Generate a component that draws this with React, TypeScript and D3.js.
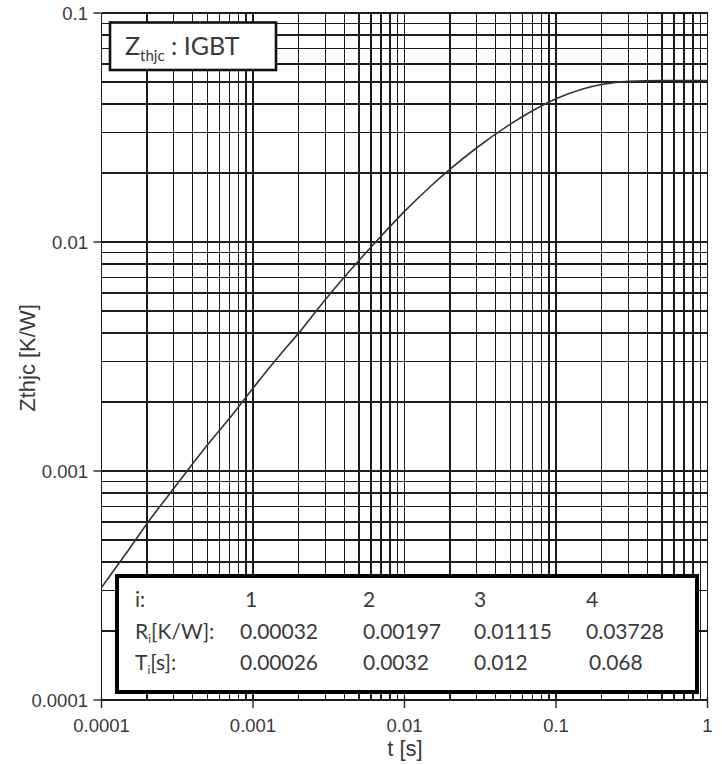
import React from "react";
import * as d3 from "d3";

// Transient thermal impedance, junction to case (IGBT)
const timeValues = [
  0.0001, 0.00015, 0.0002, 0.0003, 0.0005, 0.0007, 0.001, 0.0015, 0.002, 0.003,
  0.005, 0.007, 0.01, 0.015, 0.02, 0.03, 0.05, 0.07, 0.1, 0.15, 0.2, 0.3, 0.5,
  0.7, 1,
];
const zthValues = [
  0.00031, 0.00045, 0.00059, 0.00084, 0.0013, 0.0017, 0.0023, 0.0032, 0.0040,
  0.0056, 0.0083, 0.0106, 0.0136, 0.0176, 0.0208, 0.0258, 0.0327, 0.0374,
  0.0422, 0.0466, 0.0487, 0.0503, 0.0507, 0.0507, 0.0507,
];

const xTickLabels = ["0.0001", "0.001", "0.01", "0.1", "1"];
const yTickLabels = ["0.0001", "0.001", "0.01", "0.1"];

// Foster network parameters
const stageNumbers = ["1", "2", "3", "4"];
const resistances = ["0.00032", "0.00197", "0.01115", "0.03728"];
const timeConstants = ["0.00026", "0.0032", "0.012", "0.068"];

const W = 722;
const H = 765;
const left = 101.5;
const right = 707.5;
const top = 13;
const bottom = 700;

export default function App() {
  const x = d3.scaleLog().domain([0.0001, 1]).range([left, right]);
  const y = d3.scaleLog().domain([0.0001, 0.1]).range([bottom, top]);

  const xGrid = x.ticks();
  const yGrid = y.ticks();

  const line = d3
    .line<number>()
    .x((_, i) => x(timeValues[i]))
    .y((d) => y(d))
    .curve(d3.curveMonotoneX);

  const gridColor = "#1c1c1c";
  const textColor = "#3a3a3a";
  const tickFont = "'Liberation Sans', Arial, sans-serif";
  const tableFont = "Lato, 'Open Sans', sans-serif";

  const colX = [240, 363, 474, 586];
  const rowY = [607, 639, 670];

  return (
    <svg
      width={W}
      height={H}
      viewBox={`0 0 ${W} ${H}`}
      style={{ position: "absolute", left: 0, top: 0, background: "#fff" }}
    >
      <rect x={0} y={0} width={W} height={H} fill="#fff" />

      {/* grid */}
      <g stroke={gridColor} strokeWidth={1.4} shapeRendering="crispEdges">
        {xGrid.map((v, i) => (
          <line key={`gx${i}`} x1={x(v)} x2={x(v)} y1={top} y2={bottom} />
        ))}
        {yGrid.map((v, i) => (
          <line key={`gy${i}`} x1={left} x2={right} y1={y(v)} y2={y(v)} />
        ))}
      </g>

      {/* major ticks */}
      <g stroke="#222" strokeWidth={1.4}>
        {xTickLabels.map((t) => (
          <line key={`tx${t}`} x1={x(+t)} x2={x(+t)} y1={bottom - 3} y2={bottom + 8} />
        ))}
        {yTickLabels.map((t) => (
          <line key={`ty${t}`} x1={left - 8} x2={left} y1={y(+t)} y2={y(+t)} />
        ))}
      </g>

      {/* curve */}
      <path
        d={line(zthValues) || ""}
        fill="none"
        stroke="#333"
        strokeWidth={1.6}
      />

      {/* tick labels */}
      <g fill={textColor} fontFamily={tickFont} fontSize={18.5}>
        {xTickLabels.map((t) => (
          <text key={`lx${t}`} x={x(+t)} y={732} textAnchor="middle">
            {t}
          </text>
        ))}
        {yTickLabels.map((t) => (
          <text
            key={`ly${t}`}
            x={88}
            y={y(+t)}
            textAnchor="end"
            dominantBaseline="central"
          >
            {t}
          </text>
        ))}
      </g>

      {/* axis titles */}
      <g fill={textColor} fontFamily={tickFont} fontSize={22}>
        <text x={405} y={756} textAnchor="middle">
          t [s]
        </text>
        <text
          transform="translate(35,358) rotate(-90)"
          textAnchor="middle"
        >
          Zthjc [K/W]
        </text>
      </g>

      {/* title box */}
      <rect
        x={110}
        y={22.5}
        width={166}
        height={47.5}
        fill="#fff"
        stroke="#111"
        strokeWidth={2.6}
      />
      <text x={125} y={55} fill={textColor} fontFamily={tableFont} fontSize={25}>
        Z
        <tspan fontSize={15} dy={6}>
          thjc
        </tspan>
        <tspan dy={-6}> : IGBT</tspan>
      </text>

      {/* parameter table */}
      <rect
        x={117}
        y={576}
        width={580}
        height={116}
        fill="#fff"
        stroke="#000"
        strokeWidth={4}
      />
      <g fill={textColor} fontFamily={tableFont} fontSize={21}>
        <text x={135} y={rowY[0]}>i:</text>
        <text x={135} y={rowY[1]}>
          R<tspan fontSize={12} dy={4}>i</tspan>
          <tspan dy={-4}>[K/W]:</tspan>
        </text>
        <text x={135} y={rowY[2]}>
          T<tspan fontSize={12} dy={4}>i</tspan>
          <tspan dy={-4}>[s]:</tspan>
        </text>
        {stageNumbers.map((s, i) => (
          <text key={`n${s}`} x={colX[i] + (i === 0 ? 5 : 0)} y={rowY[0]}>
            {s}
          </text>
        ))}
        {resistances.map((r, i) => (
          <text key={`r${i}`} x={colX[i]} y={rowY[1]}>
            {r}
          </text>
        ))}
        {timeConstants.map((t, i) => (
          <text key={`t${i}`} x={colX[i] + (i === 3 ? 3 : 0)} y={rowY[2]}>
            {t}
          </text>
        ))}
      </g>
    </svg>
  );
}
